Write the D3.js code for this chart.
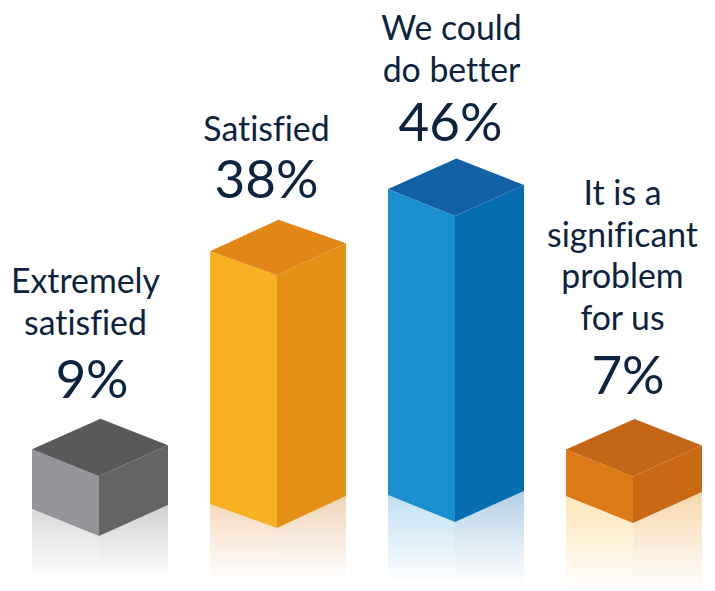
<!DOCTYPE html>
<html>
<head>
<meta charset="utf-8">
<script src="https://cdn.jsdelivr.net/npm/d3@7"></script>
<style>
html, body { margin: 0; padding: 0; background: #fff; }
svg { display: block; }
text { font-family: Lato, "Open Sans", sans-serif; fill: #0c2340; text-anchor: middle; font-variant-ligatures: none; }
</style>
</head>
<body>
<div id="chart"></div>
<script>
// Survey responses
const categories = ["Extremely satisfied", "Satisfied", "We could do better", "It is a significant problem for us"];
const categoryLines = [
  ["Extremely", "satisfied"],
  ["Satisfied"],
  ["We could", "do better"],
  ["It is a", "significant", "problem", "for us"]
];
const percentages = [9, 38, 46, 7];

// Presentation settings, one entry per bar
const leftFaces = ["#939598", "#f7b021", "#1a8fd0", "#dd7917"];
const rightFaces = ["#636466", "#e59118", "#066eb0", "#c96914"];
const topFaces = ["#58595b", "#e28717", "#1261a4", "#c36616"];
const leftGlows = ["#d9dadb", "#f5d9bc", "#bfe0f2", "#fde6b8"];
const rightGlows = ["#cfd0d1", "#efd3b8", "#b3d0e5", "#f6d7ad"];
const floorY = [536, 528, 522, 523];
const glowEndY = [580, 579, 584, 592];
const riseLeft = [27, 24, 27, 27];
const riseRight = [31, 32, 31, 31];
const labelFirstBaseline = [293, 141, 40, 205];
const valueBaseline = [398, 198, 141, 394];
const labelCenterOffset = [-13.5, -10.5, -3.5, -10.5];
const valueCenterOffset = [-7, -10.5, -4.5, -5];

const width = 715, height = 591;
const halfLeft = 67, halfRight = 69;
const lineStep = 41.5;

const x = d3.scalePoint().domain(categories).range([99, 633]);
const h = d3.scaleLinear().domain([0, 46]).range([0, 306]);

const svg = d3.select("#chart").append("svg")
  .attr("width", width).attr("height", height)
  .attr("viewBox", `0 0 ${width} ${height}`);
const defs = svg.append("defs");

const path = pts => d3.line()(pts) + "Z";

function fade(id, color, y1, y2) {
  const g = defs.append("linearGradient").attr("id", id)
    .attr("gradientUnits", "userSpaceOnUse")
    .attr("x1", 0).attr("x2", 0).attr("y1", y1).attr("y2", y2);
  g.append("stop").attr("offset", 0).attr("stop-color", color);
  g.append("stop").attr("offset", 1).attr("stop-color", "#fff");
}

const bars = svg.selectAll("g.bar").data(categories).join("g").attr("class", "bar");

bars.each(function (name, i) {
  const g = d3.select(this);
  const cx = x(name);
  const yb = floorY[i];
  const yt = yb - h(percentages[i]);
  const lx = cx - halfLeft, rx = cx + halfRight;
  const rl = riseLeft[i], rr = riseRight[i];
  const end = glowEndY[i];

  // Floor reflection under the two visible faces
  fade(`glow-l-${i}`, leftGlows[i], yb - rl, end);
  fade(`glow-r-${i}`, rightGlows[i], yb - rr, end);
  g.append("path").attr("fill", `url(#glow-l-${i})`)
    .attr("d", path([[lx, yb - rl], [cx, yb], [cx, end], [lx, end]]));
  g.append("path").attr("fill", `url(#glow-r-${i})`)
    .attr("d", path([[cx, yb], [rx, yb - rr], [rx, end], [cx, end]]));

  // Faces of the box
  g.append("path").attr("fill", leftFaces[i])
    .attr("d", path([[lx, yt - rl], [cx, yt], [cx, yb], [lx, yb - rl]]));
  g.append("path").attr("fill", rightFaces[i])
    .attr("d", path([[cx, yt], [rx, yt - rr], [rx, yb - rr], [cx, yb]]));
  g.append("path").attr("fill", topFaces[i])
    .attr("d", path([[lx, yt - rl], [cx + 1.5, yt - rl - rr + 0.5], [rx, yt - rr], [cx, yt]]));

  // Category label and percentage
  categoryLines[i].forEach((line, k) => {
    g.append("text").attr("x", cx + labelCenterOffset[i]).attr("y", labelFirstBaseline[i] + k * lineStep)
      .attr("font-size", 33.8).text(line);
  });
  g.append("text").attr("x", cx + valueCenterOffset[i]).attr("y", valueBaseline[i])
    .attr("font-size", 53).text(percentages[i] + "%");
});
</script>
</body>
</html>
